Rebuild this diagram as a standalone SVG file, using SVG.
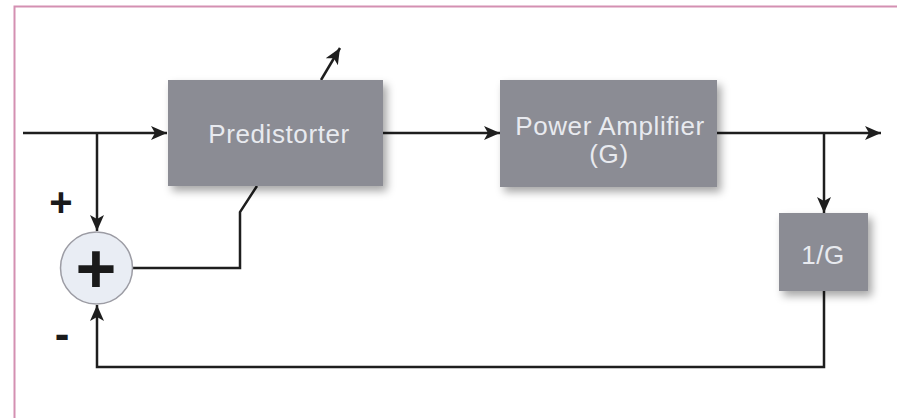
<svg xmlns="http://www.w3.org/2000/svg" width="897" height="418" viewBox="0 0 897 418">
  <style>
    .block { fill: #8b8c94; }
    .label { font-family: "Liberation Sans", Arial, sans-serif; font-size: 26px; fill: #e8eaef; text-anchor: middle; letter-spacing: 0.6px; }
    .sign { font-family: "Liberation Sans", Arial, sans-serif; font-weight: bold; fill: #1a1a1a; text-anchor: middle; }
    .wire { fill: none; stroke: #1e1e1e; stroke-width: 2.5; }
    .arrow { marker-end: url(#head); }
  </style>
  <defs>
    <marker id="head" markerUnits="userSpaceOnUse" markerWidth="18" markerHeight="16" refX="16" refY="7" orient="auto">
      <path d="M0,0 L16,7 L0,14 L4,7 Z" fill="#1e1e1e"/>
    </marker>
    <filter id="shadow" x="-20%" y="-20%" width="150%" height="150%">
      <feDropShadow dx="4" dy="5" stdDeviation="4" flood-color="#000" flood-opacity="0.35"/>
    </filter>
  </defs>

  <rect width="897" height="418" fill="#ffffff"/>
  <!-- frame: only the top and left edges fall inside the page -->
  <path d="M14.5,430 V6.5 H910" fill="none" stroke="#d490b2" stroke-width="2"/>

  <!-- connectors -->
  <g id="connectors">
    <path class="wire arrow" d="M23,133 H167"/>
    <path class="wire arrow" d="M97,133 V231"/>
    <path class="wire" d="M133,268 H240 V212 L257,186"/>
    <path class="wire arrow" d="M321,80 L340,48"/>
    <path class="wire arrow" d="M383,133 H500"/>
    <path class="wire arrow" d="M717,133 H881"/>
    <path class="wire arrow" d="M824,133 V213"/>
    <path class="wire arrow" d="M824,291 V367 H97 V305"/>
  </g>

  <g id="predistorter">
    <rect class="block" x="168" y="80" width="215" height="106" filter="url(#shadow)"/>
    <text class="label" x="279" y="143" font-size="28" letter-spacing="1">Predistorter</text>
  </g>

  <g id="power-amplifier">
    <rect class="block" x="500" y="80" width="217" height="107" filter="url(#shadow)"/>
    <text class="label" x="610" y="135">Power Amplifier</text>
    <text class="label" x="609" y="163">(G)</text>
  </g>

  <g id="inverse-gain">
    <rect class="block" x="779" y="213" width="89" height="78" filter="url(#shadow)"/>
    <text class="label" x="823" y="264">1/G</text>
  </g>

  <g id="summer">
    <circle cx="96.5" cy="268" r="36" fill="#e9edf4" stroke="#9c9ca4" stroke-width="1.5"/>
    <text class="sign" x="96" y="293" font-size="70">+</text>
  </g>

  <g id="signs">
    <text class="sign" x="61" y="216" font-size="40">+</text>
    <text class="sign" x="62" y="349" font-size="44">-</text>
  </g>
</svg>
